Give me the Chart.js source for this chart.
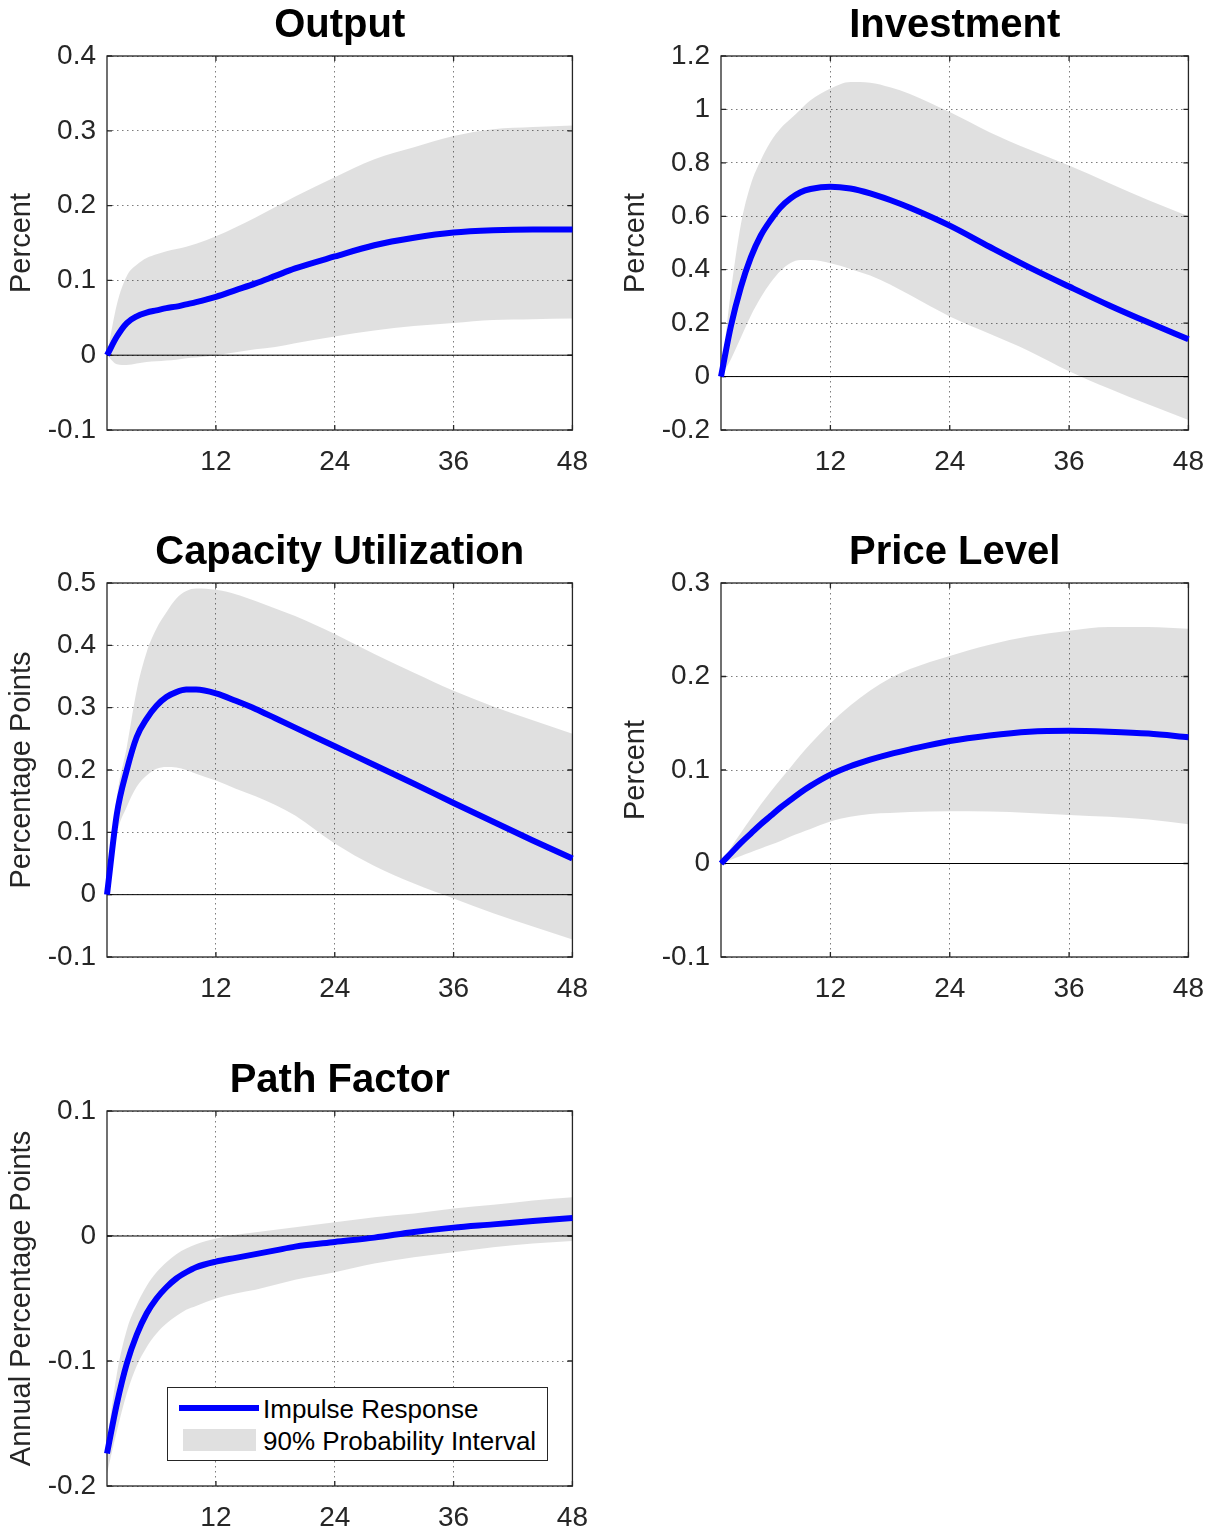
<!DOCTYPE html>
<html>
<head>
<meta charset="utf-8">
<script src="https://cdn.jsdelivr.net/npm/chart.js@4.4.1/dist/chart.umd.min.js"></script>
<style>
  body { margin: 0; background: #fff; }
  #page { position: relative; width: 1214px; height: 1533px; overflow: hidden; }
  .panel { position: absolute; }
  #legend {
    position: absolute; left: 167px; top: 1387px; width: 379px; height: 72px;
    border: 1px solid #262626; background: #fff;
    font-family: 'Liberation Sans', Arial, sans-serif; font-size: 26px; color: #000;
  }
  #legend .sw-line { position: absolute; left: 11px; top: 17px; width: 80px; height: 6px; background: #0000ff; }
  #legend .sw-band { position: absolute; left: 15px; top: 41px; width: 73px; height: 22px; background: #e0e0e0; }
  #legend .txt { position: absolute; left: 95px; line-height: 30px; white-space: nowrap; }
</style>
</head>
<body>
<div id="page">
  <div class="panel" style="left:0px;top:0px;"><canvas id="c1" width="603" height="490"></canvas></div>
  <div class="panel" style="left:610px;top:0px;"><canvas id="c2" width="609" height="490"></canvas></div>
  <div class="panel" style="left:0px;top:527px;"><canvas id="c3" width="603" height="490"></canvas></div>
  <div class="panel" style="left:610px;top:527px;"><canvas id="c4" width="609" height="490"></canvas></div>
  <div class="panel" style="left:0px;top:1055px;"><canvas id="c5" width="603" height="478"></canvas></div>
  <div id="legend">
    <div class="sw-line"></div><div class="txt" style="top:6px;">Impulse Response</div>
    <div class="sw-band"></div><div class="txt" style="top:38px;">90% Probability Interval</div>
  </div>
</div>
<script>
// horizon in months
const months = [1, 2, 3, 4, 5, 6, 7, 8, 9, 10, 12, 14, 16, 18, 20, 24, 28, 32, 36, 40, 44, 48];
const xTicks = [12, 24, 36, 48];

const outputIrf = [0, 0.025, 0.043, 0.052, 0.057, 0.060, 0.063, 0.065, 0.068, 0.071, 0.078, 0.087, 0.096, 0.106, 0.116, 0.132, 0.147, 0.157, 0.164, 0.167, 0.168, 0.168];
const outputHi  = [0, 0.068, 0.106, 0.121, 0.130, 0.135, 0.139, 0.142, 0.145, 0.149, 0.159, 0.171, 0.184, 0.198, 0.212, 0.238, 0.262, 0.278, 0.293, 0.302, 0.305, 0.307];
const outputLo  = [0, -0.012, -0.013, -0.011, -0.009, -0.008, -0.007, -0.006, -0.004, -0.003, 0.000, 0.004, 0.008, 0.011, 0.016, 0.025, 0.033, 0.039, 0.043, 0.047, 0.048, 0.049];

const investIrf = [0, 0.19, 0.335, 0.446, 0.528, 0.586, 0.634, 0.667, 0.690, 0.702, 0.711, 0.704, 0.686, 0.661, 0.632, 0.565, 0.486, 0.409, 0.337, 0.267, 0.202, 0.140];
const investHi  = [0, 0.32, 0.57, 0.72, 0.81, 0.88, 0.93, 0.965, 1.0, 1.034, 1.078, 1.103, 1.10, 1.083, 1.058, 0.99, 0.915, 0.85, 0.79, 0.725, 0.66, 0.60];
const investLo  = [0, 0.065, 0.146, 0.228, 0.296, 0.352, 0.396, 0.425, 0.436, 0.436, 0.424, 0.403, 0.378, 0.345, 0.305, 0.225, 0.160, 0.095, 0.020, -0.045, -0.105, -0.163];

const capuIrf = [0, 0.13, 0.20, 0.253, 0.282, 0.303, 0.317, 0.325, 0.329, 0.329, 0.323, 0.311, 0.298, 0.283, 0.268, 0.238, 0.208, 0.178, 0.147, 0.117, 0.087, 0.058];
const capuHi  = [0, 0.157, 0.237, 0.328, 0.389, 0.427, 0.453, 0.475, 0.487, 0.491, 0.489, 0.482, 0.471, 0.459, 0.447, 0.418, 0.386, 0.356, 0.327, 0.302, 0.280, 0.258];
const capuLo  = [0, 0.098, 0.141, 0.173, 0.191, 0.202, 0.205, 0.204, 0.200, 0.194, 0.183, 0.170, 0.158, 0.144, 0.127, 0.082, 0.046, 0.018, -0.006, -0.030, -0.051, -0.072];

const priceIrf = [0, 0.011, 0.022, 0.032, 0.042, 0.051, 0.060, 0.068, 0.076, 0.083, 0.095, 0.104, 0.111, 0.117, 0.122, 0.131, 0.137, 0.141, 0.142, 0.141, 0.139, 0.135];
const priceHi  = [0, 0.017, 0.033, 0.048, 0.063, 0.077, 0.090, 0.103, 0.116, 0.128, 0.150, 0.169, 0.185, 0.198, 0.208, 0.222, 0.234, 0.243, 0.249, 0.253, 0.253, 0.251];
const priceLo  = [0, 0.004, 0.008, 0.012, 0.016, 0.020, 0.024, 0.029, 0.033, 0.037, 0.045, 0.050, 0.053, 0.054, 0.055, 0.056, 0.0555, 0.054, 0.052, 0.050, 0.047, 0.042];

const pathIrf = [-0.174, -0.134, -0.102, -0.079, -0.062, -0.050, -0.041, -0.034, -0.029, -0.025, -0.0205, -0.0175, -0.0145, -0.0115, -0.0085, -0.0048, -0.0013, 0.0032, 0.0067, 0.0093, 0.012, 0.0144];
const pathHi  = [-0.165, -0.110, -0.075, -0.055, -0.040, -0.029, -0.021, -0.0145, -0.010, -0.0065, -0.002, 0.001, 0.003, 0.005, 0.007, 0.011, 0.015, 0.018, 0.022, 0.025, 0.0285, 0.031];
const pathLo  = [-0.190, -0.156, -0.126, -0.104, -0.089, -0.078, -0.070, -0.064, -0.059, -0.056, -0.050, -0.046, -0.043, -0.039, -0.035, -0.029, -0.022, -0.017, -0.013, -0.009, -0.006, -0.004];

const zeroLine = [0, 0];
const zeroLineX = [1, 48];

const fontFamily = "'Liberation Sans', Arial, Helvetica, sans-serif";
Chart.defaults.font.family = fontFamily;

const panels = [
  { id: 'c1', title: 'Output', yLabel: 'Percent', yMin: -0.1, yMax: 0.4, yStep: 0.1, mid: outputIrf, hi: outputHi, lo: outputLo, axisW: 107, plotBottom: 430 },
  { id: 'c2', title: 'Investment', yLabel: 'Percent', yMin: -0.2, yMax: 1.2, yStep: 0.2, mid: investIrf, hi: investHi, lo: investLo, axisW: 111, plotBottom: 430 },
  { id: 'c3', title: 'Capacity Utilization', yLabel: 'Percentage Points', yMin: -0.1, yMax: 0.5, yStep: 0.1, mid: capuIrf, hi: capuHi, lo: capuLo, axisW: 107, plotBottom: 430 },
  { id: 'c4', title: 'Price Level', yLabel: 'Percent', yMin: -0.1, yMax: 0.3, yStep: 0.1, mid: priceIrf, hi: priceHi, lo: priceLo, axisW: 111, plotBottom: 430 },
  { id: 'c5', title: 'Path Factor', yLabel: 'Annual Percentage Points', yMin: -0.2, yMax: 0.1, yStep: 0.1, mid: pathIrf, hi: pathHi, lo: pathLo, axisW: 107, plotBottom: 431 }
];

const pts = (xs, ys) => xs.map((x, i) => ({ x: x, y: ys[i] }));

// box round the axes and short inward ticks, like the original figure
const axesBox = {
  id: 'axesBox',
  beforeDatasetsDraw(chart) {
    const { ctx, chartArea: a, scales } = chart;
    const x = scales.x, y = scales.y;
    ctx.save();
    ctx.strokeStyle = '#262626';
    ctx.lineWidth = 1.3;
    ctx.strokeRect(a.left, a.top, a.right - a.left, a.bottom - a.top);
    ctx.beginPath();
    const len = 5;
    x.ticks.forEach(t => {
      const px = x.getPixelForValue(t.value);
      ctx.moveTo(px, a.bottom); ctx.lineTo(px, a.bottom - len);
      ctx.moveTo(px, a.top); ctx.lineTo(px, a.top + len);
    });
    y.ticks.forEach(t => {
      const py = y.getPixelForValue(t.value);
      ctx.moveTo(a.left, py); ctx.lineTo(a.left + len, py);
      ctx.moveTo(a.right, py); ctx.lineTo(a.right - len, py);
    });
    ctx.stroke();
    ctx.restore();
  }
};

function makeChart(p) {
  const canvas = document.getElementById(p.id);
  const xAxisH = canvas.height - p.plotBottom;
  const gridColor = 'rgba(38,38,38,0.6)';
  return new Chart(canvas.getContext('2d'), {
    type: 'line',
    data: {
      datasets: [
        { label: 'Impulse Response', data: pts(months, p.mid), borderColor: '#0000ff', borderWidth: 6,
          pointRadius: 0, fill: false, cubicInterpolationMode: 'monotone', clip: 6 },
        { label: 'zero', data: pts(zeroLineX, zeroLine), borderColor: '#000', borderWidth: 1,
          pointRadius: 0, fill: false },
        { label: '90% Probability Interval', data: pts(months, p.hi), borderColor: 'transparent', borderWidth: 0,
          pointRadius: 0, backgroundColor: 'rgba(0,0,0,0.12)', fill: '+1', cubicInterpolationMode: 'monotone' },
        { label: 'lower', data: pts(months, p.lo), borderColor: 'transparent', borderWidth: 0,
          pointRadius: 0, fill: false, cubicInterpolationMode: 'monotone' }
      ]
    },
    options: {
      responsive: false,
      animation: false,
      events: [],
      layout: { padding: 0 },
      plugins: {
        legend: { display: false },
        tooltip: { enabled: false },
        title: {
          display: true, text: p.title, color: '#000', fullSize: false,
          font: { size: 40, weight: 'bold', lineHeight: 1 },
          padding: { top: 6, bottom: 10 }
        }
      },
      scales: {
        x: {
          type: 'linear', min: 1, max: 48,
          afterBuildTicks: s => { s.ticks = xTicks.map(v => ({ value: v })); },
          afterFit: s => { s.height = xAxisH; },
          grid: { color: gridColor, lineWidth: 1, drawTicks: false },
          border: { display: false, dash: [1.5, 3.5] },
          ticks: { font: { size: 28 }, color: '#262626', padding: 15, maxRotation: 0, autoSkip: false }
        },
        y: {
          min: p.yMin, max: p.yMax,
          afterFit: s => { s.width = p.axisW; },
          grid: { color: gridColor, lineWidth: 1, drawTicks: false },
          border: { display: false, dash: [1.5, 3.5] },
          ticks: {
            stepSize: p.yStep, font: { size: 28 }, color: '#262626', padding: 11,
            callback: v => String(Math.round(v * 1000) / 1000)
          },
          title: {
            display: true, text: p.yLabel, color: '#262626',
            font: { size: 29 }, padding: { top: p.axisW - 85 - 17.4, bottom: 0 }
          }
        }
      }
    },
    plugins: [axesBox]
  });
}

panels.forEach(makeChart);
</script>
</body>
</html>
